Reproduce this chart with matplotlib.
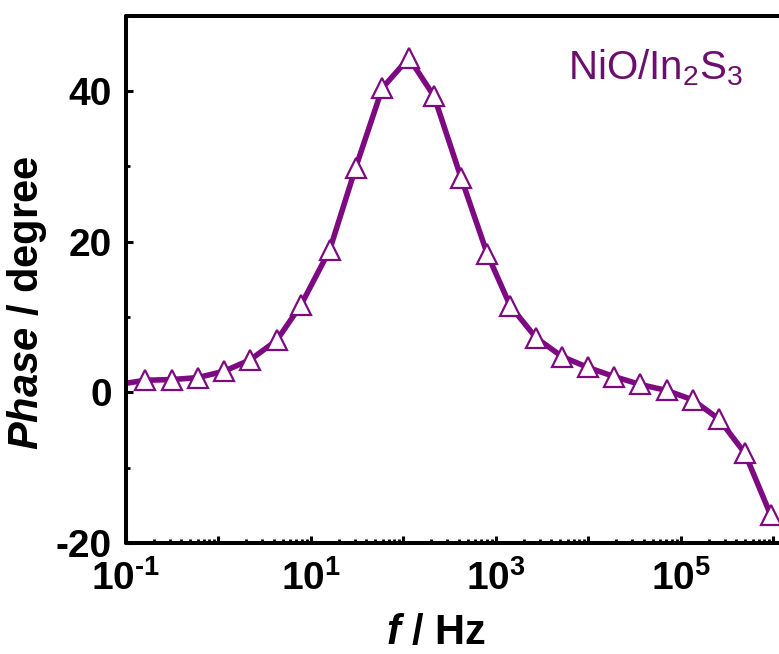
import numpy as np
import matplotlib
matplotlib.use("Agg")
import matplotlib.pyplot as plt
from matplotlib.ticker import FixedLocator, FuncFormatter, LogLocator, NullFormatter

plt.rcParams['font.family'] = ['Liberation Sans', 'DejaVu Sans']
plt.rcParams['mathtext.fontset'] = 'custom'
plt.rcParams['mathtext.rm'] = 'Liberation Sans'
plt.rcParams['mathtext.it'] = 'Liberation Sans:italic'
plt.rcParams['mathtext.bf'] = 'Liberation Sans:bold'
plt.rcParams['mathtext.bfit'] = 'Liberation Sans:italic:bold'
plt.rcParams['axes.unicode_minus'] = False

# Data
freq_hz = [0.161, 0.313, 0.598, 1.15, 2.20, 4.28, 7.83, 16.0, 30.5, 59.4,
           115, 215, 421, 813, 1430, 2720, 5200, 9930, 18970, 36220,
           70470, 134600, 258200, 494300, 937600]
phase_deg = [1.6, 1.7, 1.95, 2.8, 4.3, 6.9, 11.6, 18.9, 29.8, 40.4,
             44.4, 39.3, 28.5, 18.3, 11.5, 7.25, 4.75, 3.3, 2.1, 1.05,
             0.25, -1.0, -3.55, -8.1, -16.3]
# the drawn curve starts at the left axis edge
curve_start_hz = 0.1
curve_start_deg = 1.2
y_major = [-20, 0, 20, 40]
y_minor = [-10, 10, 30]
label_text = 'NiO/In$_2$S$_3$'

W, H = 779, 654
fig = plt.figure(figsize=(W / 100, H / 100), dpi=100)

left_px, bottom_px, top_px = 125.8, 543.0, 15.7
dec_px = 92.5
xmin_log, xmax_log = -1.0, 6.2
right_px = left_px + (xmax_log - xmin_log) * dec_px
ax = fig.add_axes([left_px / W, (H - bottom_px) / H,
                   (right_px - left_px) / W, (bottom_px - top_px) / H])

col = '#7e0a82'
ax.plot([curve_start_hz] + freq_hz, [curve_start_deg] + phase_deg, color=col,
        lw=4.0, solid_joinstyle='round', solid_capstyle='butt', zorder=2)
ax.plot(freq_hz, phase_deg, ls='none', marker='^', ms=14,
        mfc='white', mec=col, mew=1.6, zorder=3)

ax.set_xscale('log')
ax.set_xlim(10 ** xmin_log, 10 ** xmax_log)
ax.set_ylim(-20, 50)

ax.xaxis.set_major_locator(LogLocator(base=10, numticks=20))
ax.xaxis.set_minor_locator(LogLocator(base=10, subs=np.arange(2, 10), numticks=20))
ax.xaxis.set_minor_formatter(NullFormatter())

def xfmt(v, pos):
    e = int(round(np.log10(v)))
    if e % 2 != 0:
        s = str(e).replace('-', '\u2010')
        return r'$\mathbf{10^{%s}}$' % s
    return ''
ax.xaxis.set_major_formatter(FuncFormatter(xfmt))

ax.yaxis.set_major_locator(FixedLocator(y_major))
ax.yaxis.set_minor_locator(FixedLocator(y_minor))

for s in ax.spines.values():
    s.set_linewidth(2.9)
    s.set_capstyle('round')

ax.tick_params(axis='both', which='major', direction='in', length=5, width=2.2,
               labelsize=28, pad=10)
ax.tick_params(axis='both', which='minor', direction='in', length=3, width=2.0)
ax.tick_params(axis='x', which='major', pad=12)
ax.tick_params(top=False, right=False, which='both')
for lab in ax.get_yticklabels():
    lab.set_fontweight('bold')

fig.text(436 / W, (H - 633) / H, r'$\mathbfit{f}$ / Hz', fontsize=30,
         fontweight='bold', ha='center', va='center')
fig.text(27 / W, (H - 303) / H, r'$\mathbfit{Phase}$ / degree', fontsize=30,
         fontweight='bold', ha='center', va='center', rotation=90)

fig.text(568 / W, (H - 79) / H, label_text, fontsize=29, color='#6b0f6e',
         ha='left', va='baseline')

fig.savefig('out.png', dpi=100)
